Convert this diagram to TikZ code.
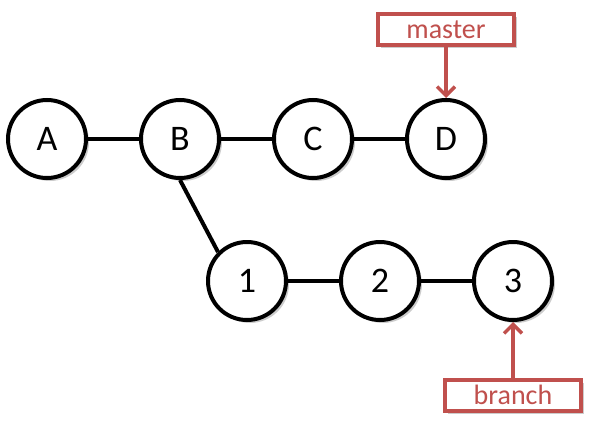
\documentclass[tikz,border=0pt]{standalone}
\usepackage{fontspec}
\setmainfont{Carlito}
\usetikzlibrary{positioning,shadows,arrows.meta}
\definecolor{tagred}{RGB}{192,80,77}

\begin{document}
\begin{tikzpicture}[node distance=51pt, line width=4pt,
    commit/.style={circle, draw, fill=white, minimum size=78pt, inner sep=0pt,
      font=\fontsize{36}{40}\selectfont,
      drop shadow={opacity=0.4, fill=black!50, shadow xshift=3pt, shadow yshift=-3pt}},
    tag/.style={draw=tagred, fill=white, text=tagred, line width=3.5pt,
      minimum width=136pt, minimum height=31pt, inner sep=0pt,
      font=\fontsize{28}{30}\selectfont,
      drop shadow={opacity=0.4, fill=black!50, shadow xshift=3pt, shadow yshift=-3pt}},
    pointer/.style={draw=tagred, line width=4pt,
      -{Straight Barb[length=9pt, width=18pt, line width=3.5pt]}}]
        \useasboundingbox (0,0) rectangle (599pt,-444pt);
        % Commits on master
        \node[commit] (A) at (47pt,-139pt) {A};
        \node[commit, right=of A] (B) {B};
        \node[commit, right=of B] (C) {C};
        \node[commit, right=of C] (D) {D};
        % Commits on the branch
        \node[commit, below=60pt of B, xshift=67pt] (n1) {1};
        \node[commit, right=of n1] (n2) {2};
        \node[commit, right=of n2] (n3) {3};
        % Edges
        \draw (A) -- (B);
        \draw (B) -- (C);
        \draw (C) -- (D);
        \draw (B.south) -- (n1.north west);
        \draw (n1) -- (n2);
        \draw (n2) -- (n3);
        % Labels
        \node[tag, above=51pt of D] (master) {master};
        \node[tag, below=56pt of n3] (branch) {branch};
        \draw[pointer] (master) -- (D);
        \draw[pointer] (branch) -- (n3);
\end{tikzpicture}
\end{document}
